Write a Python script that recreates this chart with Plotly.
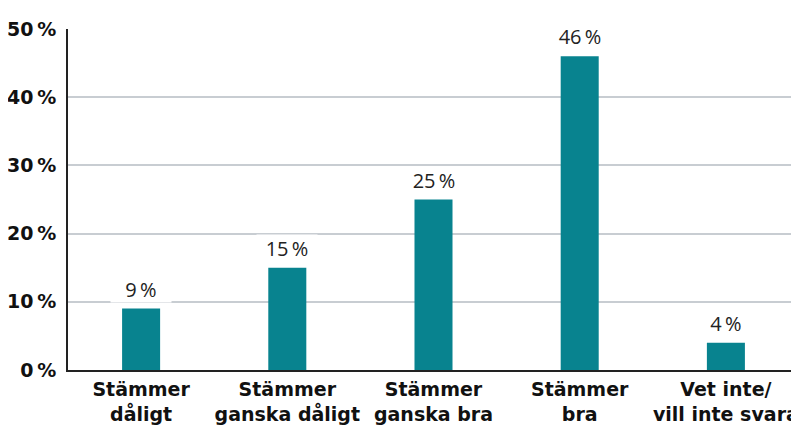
import plotly.graph_objects as go

categories = ['Stämmer<br>dåligt', 'Stämmer<br>ganska dåligt', 'Stämmer<br>ganska bra',
              'Stämmer<br>bra', 'Vet inte/<br>vill inte svara']
values = [9, 15, 25, 46, 4]
value_labels = ['9\u2009%', '15\u2009%', '25\u2009%', '46\u2009%', '4\u2009%']
tick_vals = [0, 10, 20, 30, 40, 50]
tick_text = ['0\u2009%', '10\u2009%', '20\u2009%', '30\u2009%', '40\u2009%', '50\u2009%']

fig = go.Figure()

fig.add_trace(go.Bar(
    x=categories,
    y=values,
    marker_color='#08838F',
    marker_line_width=0,
    width=0.26,
    hoverinfo='skip'
))

# etiketter ovanför staplarna med vit bakgrund
for cat, v, lab in zip(categories, values, value_labels):
    fig.add_annotation(
        x=cat, y=v, text=lab, showarrow=False,
        yanchor='bottom', yshift=6,
        bgcolor='white', width=58, height=24,
        font=dict(family='Open Sans', size=20, color='#222222')
    )

fig.update_layout(
    width=791, height=418,
    margin=dict(l=60, r=0, t=21, b=56),
    plot_bgcolor='white',
    paper_bgcolor='white',
    showlegend=False,
    font=dict(family='Open Sans', color='#111111'),
    xaxis=dict(
        showline=True, linecolor='#222222', linewidth=2,
        tickfont=dict(family='DejaVu Sans', size=19, color='#111111', weight='bold'),
        automargin=False, ticks='', ticklabelstandoff=1
    ),
    yaxis=dict(
        range=[0, 50], tickvals=tick_vals, ticktext=tick_text,
        showline=True, linecolor='#222222', linewidth=2,
        showgrid=True, gridcolor='#C8CDD2', gridwidth=2,
        zeroline=False, automargin=False,
        tickfont=dict(family='DejaVu Sans', size=19, color='#111111', weight='bold'),
        ticks='', ticklabelstandoff=6
    )
)

fig.write_html("out.html")
